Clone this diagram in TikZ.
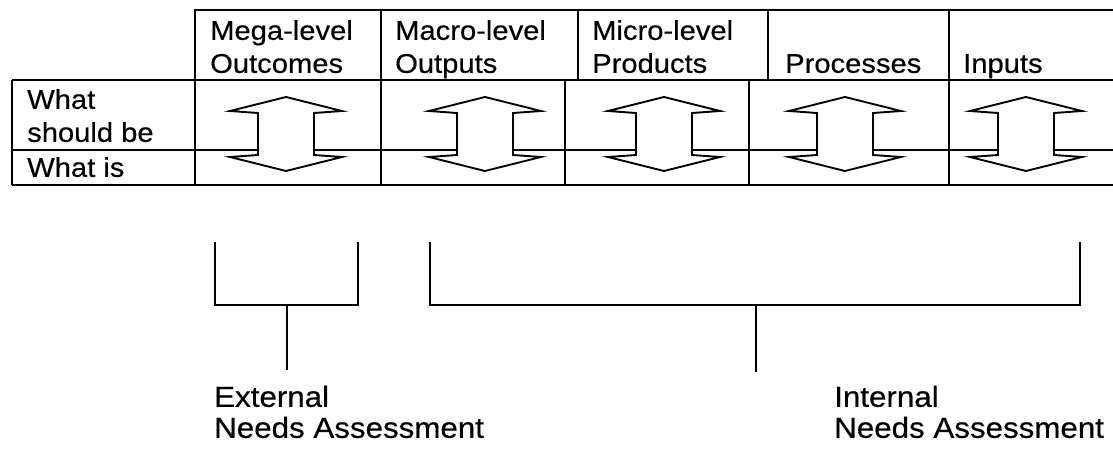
\documentclass[tikz,border=0pt]{standalone}
\usepackage{fontspec}
\setmainfont[FakeStretch=1.08,FakeBold=0.4]{Liberation Sans}
\usetikzlibrary{positioning}

\tikzset{
  gap/.pic={\draw[line width=1.9pt, line join=miter, fill=white]
    (0,-37) -- (56,-23) -- (28,-21) -- (28,21) -- (56,23) -- (0,37)
    -- (-56,23) -- (-28,21) -- (-28,-21) -- (-56,-23) -- cycle;}
}

\begin{document}
\begin{tikzpicture}[
  x=1pt, y=-1pt,
  font=\fontsize{27}{33}\selectfont,
  grid/.style={line width=1.7pt},
  brk/.style={line width=1.8pt},
  hdr/.style={anchor=south west, align=left, inner sep=0pt, text depth=6pt},
  need/.style={hdr, font=\fontsize{29}{31}\selectfont}
]
\useasboundingbox (0,0) rectangle (1113,461);

% Kopfzeile
\draw[grid] (195,185) -- (195,10) -- (1113,10);
\foreach \x in {381,578,768,949}
  \draw[grid] (\x,10) -- (\x,80);
\node[hdr] (mega)  at (210,79) {Mega-level\\Outcomes};
\node[hdr] (macro) at (395,79) {Macro-level\\Outputs};
\node[hdr] (micro) at (592,79) {Micro-level\\Products};
\node[hdr] (proc)  at (785,79) {Processes};
\node[hdr] (inp)   at (963,79) {Inputs};

% Rumpf
\draw[grid] (12,80) -- (1113,80);
\draw[grid] (12,150) -- (1113,150);
\draw[grid] (12,185) -- (1113,185);
\draw[grid] (12,80) -- (12,185);
\foreach \x in {381,565,749,949}
  \draw[grid] (\x,80) -- (\x,185);
\node[hdr] (soll) at (27,148) {What\\should be};
\node[hdr] (ist)  at (27,183) {What is};

% Doppelpfeile
\foreach \cx [count=\i] in {286,485,664,845,1026}
  \pic (gap\i) at (\cx,134) {gap};

% Klammern
\coordinate (extL) at (215,242);
\coordinate (extR) at (358,242);
\coordinate (extS) at (287,305);
\coordinate (extE) at (287,370);
\coordinate (intL) at (430,242);
\coordinate (intR) at (1080,242);
\coordinate (intS) at (756,305);
\coordinate (intE) at (756,372);
\draw[brk] (extL) |- (extS) -| (extR);
\draw[brk] (extS) -- (extE);
\draw[brk] (intL) |- (intS) -| (intR);
\draw[brk] (intS) -- (intE);

\node[need] (ext) at (214,444) {External\\Needs Assessment};
\node[need] (int) at (834,444) {Internal\\Needs Assessment};
\end{tikzpicture}
\end{document}
